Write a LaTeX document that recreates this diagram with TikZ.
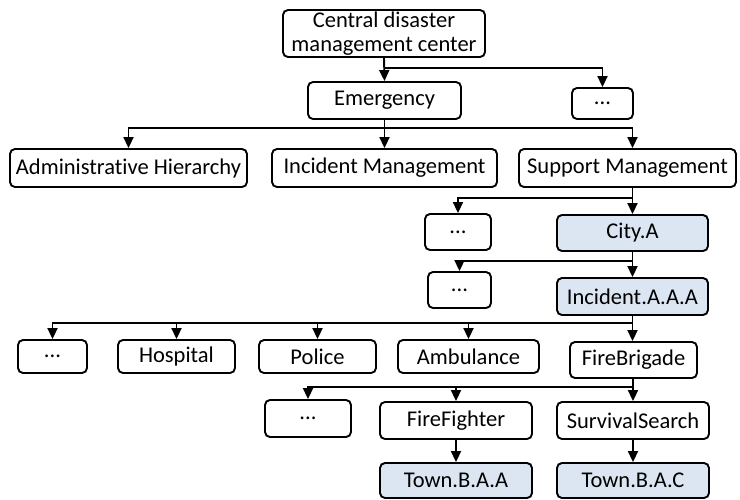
\documentclass[tikz,border=0pt]{standalone}
\usepackage{fontspec}
\setmainfont{Carlito}[Ligatures=NoCommon]
\usetikzlibrary{arrows.meta}
\definecolor{paleblue}{HTML}{DCE6F2}
\begin{document}
\begin{tikzpicture}[x=1pt,y=-1pt,
  box/.style={draw=black, fill=white, rounded corners=5pt, line width=1.9pt,
    inner sep=0pt, align=center, font=\fontsize{22.5}{24}\selectfont},
  unitbox/.style={box, fill=paleblue},
  link/.style={line width=1.9pt, -{Triangle[width=10pt,length=11pt]}}]
\useasboundingbox (0,0) rectangle (740,499);

% nodes
\node[box, minimum width=202pt, minimum height=47pt] (cdm) at (384,33.5) {Central disaster\\management center};
\node[box, minimum width=153pt, minimum height=37pt] (emg) at (384.5,100.5) {Emergency};
\node[box, minimum width=61pt, minimum height=31pt] (td) at (602.5,103.5) {...};

\node[box, minimum width=237pt, minimum height=38pt] (adm) at (128.5,168) {Administrative Hierarchy};
\node[box, minimum width=225pt, minimum height=38pt] (inc) at (384.5,168) {Incident Management};
\node[box, minimum width=217pt, minimum height=38pt] (sup) at (627.5,168) {Support Management};

\node[box, minimum width=66pt, minimum height=36pt] (d2) at (458,232) {...};
\node[unitbox, minimum width=151pt, minimum height=36pt] (city) at (632.5,233) {City.A};
\node[box, minimum width=63pt, minimum height=36pt] (d3) at (459.5,290) {...};
\node[unitbox, minimum width=151pt, minimum height=37pt] (inca) at (632.5,296.5) {Incident.A.A.A};

\node[box, minimum width=69pt, minimum height=33pt] (d4) at (52.5,356.5) {...};
\node[box, minimum width=117pt, minimum height=33pt] (hosp) at (176.5,356.5) {Hospital};
\node[box, minimum width=117pt, minimum height=33pt] (pol) at (317.5,356.5) {Police};
\node[box, minimum width=141pt, minimum height=33pt] (amb) at (468.5,356.5) {Ambulance};
\node[box, minimum width=127pt, minimum height=36pt] (fb) at (633.5,360) {FireBrigade};

\node[box, minimum width=86pt, minimum height=37pt] (d5) at (308,418.5) {...};
\node[box, minimum width=152pt, minimum height=37pt] (ff) at (456,420.5) {FireFighter};
\node[box, minimum width=152pt, minimum height=37pt] (ss) at (633,420.5) {SurvivalSearch};
\node[unitbox, minimum width=152pt, minimum height=35pt] (ta) at (456,480.5) {Town.B.A.A};
\node[unitbox, minimum width=152pt, minimum height=35pt] (tc) at (633,480.5) {Town.B.A.C};

% bus levels
\coordinate (b1) at (0,68);
\coordinate (b2) at (0,128);
\coordinate (b3) at (0,198);
\coordinate (b4) at (0,261);
\coordinate (b5) at (0,323);
\coordinate (b6) at (0,387);

% connectors
\draw[link] (cdm.south) -- (emg.north);
\draw[link] (cdm.south |- b1) -| (td.north);

\draw[link] (emg.south) -- (inc.north);
\draw[link] (emg.south |- b2) -| (adm.north);
\draw[link] (emg.south |- b2) -| (city.north |- sup.north);

\draw[link] (city.north |- sup.south) -- (city.north);
\draw[link] (city.north |- b3) -| (d2.north);

\draw[link] (city.south) -- (inca.north);
\draw[link] (city.south |- b4) -| (d3.north);

\draw[link] (inca.south) -- (inca.south |- fb.north);
\draw[link] (inca.south |- b5) -| (d4.north);
\draw[link] (inca.south |- b5) -| (hosp.north);
\draw[link] (inca.south |- b5) -| (pol.north);
\draw[link] (inca.south |- b5) -| (amb.north);

\draw[link] (ss.north |- fb.south) -- (ss.north);
\draw[link] (ss.north |- b6) -| (ff.north);
\draw[link] (ss.north |- b6) -| (d5.north);

\draw[link] (ff.south) -- (ta.north);
\draw[link] (ss.south) -- (tc.north);
\end{tikzpicture}
\end{document}
